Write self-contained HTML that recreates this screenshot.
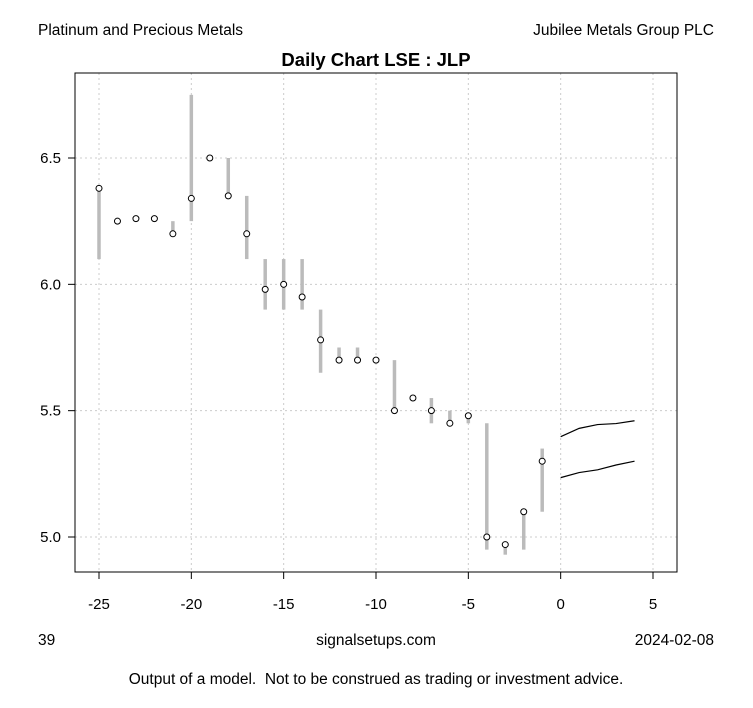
<!DOCTYPE html>
<html><head><meta charset="utf-8"><style>
body{margin:0;background:#fff;}
svg{display:block;font-family:"Liberation Sans",Arial,sans-serif;}
text{white-space:pre;}
</style></head><body>
<svg id="chart" width="753" height="708">
<text x="38" y="35" font-size="15.5">Platinum and Precious Metals</text>
<text x="714" y="35" font-size="15.5" text-anchor="end">Jubilee Metals Group PLC</text>
<text x="376" y="66" font-size="18.5" font-weight="bold" text-anchor="middle">Daily Chart LSE : JLP</text>
<g id="grid"></g>
<g id="bars"></g>
<g id="fc"></g>
<g id="pts"></g>
<rect x="75" y="73" width="602" height="499" fill="none" stroke="#000"/>
<g id="axes"></g>
<text x="38" y="645" font-size="15.5">39</text>
<text x="376" y="645" font-size="15.5" text-anchor="middle">signalsetups.com</text>
<text x="714" y="645" font-size="15.5" text-anchor="end">2024-02-08</text>
<text x="376" y="684" font-size="15.5" text-anchor="middle">Output of a model.  Not to be construed as trading or investment advice.</text>
</svg>
<script>
const days=[-25,-24,-23,-22,-21,-20,-19,-18,-17,-16,-15,-14,-13,-12,-11,-10,-9,-8,-7,-6,-5,-4,-3,-2,-1];
const closes=[6.38,6.25,6.26,6.26,6.2,6.34,6.5,6.35,6.2,5.98,6.0,5.95,5.78,5.7,5.7,5.7,5.5,5.55,5.5,5.45,5.48,5.0,4.97,5.1,5.3];
const highs=[6.38,6.25,6.26,6.26,6.25,6.75,6.5,6.5,6.35,6.1,6.1,6.1,5.9,5.75,5.75,5.7,5.7,5.55,5.55,5.5,5.48,5.45,4.97,5.1,5.35];
const lows=[6.1,6.25,6.26,6.26,6.2,6.25,6.5,6.35,6.1,5.9,5.9,5.9,5.65,5.7,5.7,5.7,5.5,5.55,5.45,5.45,5.45,4.95,4.93,4.95,5.1];
const fcDays=[0,1,2,3,4];
const fcUpper=[5.397,5.43,5.445,5.449,5.46];
const fcLower=[5.235,5.255,5.266,5.285,5.30];
const xTicks=[-25,-20,-15,-10,-5,0,5];
const yTicks=[5.0,5.5,6.0,6.5];
const NS="http://www.w3.org/2000/svg";
const X=v=>99+(v+25)*(554/30);
const Y=v=>537-(v-5)*(379/1.5);
function mk(p,t,a){const e=document.createElementNS(NS,t);for(const k in a)e.setAttribute(k,a[k]);document.getElementById(p).appendChild(e);return e;}
xTicks.forEach(t=>{
 const g=mk('grid','line',{x1:X(t),x2:X(t),y1:73,y2:572,stroke:'#ccc','stroke-dasharray':'2,3'});
 
 
 const tk=mk('axes','line',{x1:X(t),x2:X(t),y1:572,y2:579,stroke:'#000'});
 
 
 const l=mk('axes','text',{x:X(t),y:609,'font-size':15,'text-anchor':'middle'});l.textContent=t;
 
 
});
yTicks.forEach(t=>{
 const g=mk('grid','line',{x1:75,x2:677,y1:Y(t),y2:Y(t),stroke:'#ccc','stroke-dasharray':'2,3'});
 
 
 const tk=mk('axes','line',{x1:68,x2:75,y1:Y(t),y2:Y(t),stroke:'#000'});
 
 
 const l=mk('axes','text',{x:61,y:Y(t)+5,'font-size':15,'text-anchor':'end'});l.textContent=t.toFixed(1);
 
 
});
days.forEach((d,i)=>{
 if(highs[i]>lows[i]){const b=mk('bars','line',{x1:X(d),x2:X(d),y1:Y(highs[i]),y2:Y(lows[i]),stroke:'#bbb','stroke-width':3.5});
 
 }
 const c=mk('pts','circle',{cx:X(d),cy:Y(closes[i]),r:3,fill:'#fff',stroke:'#000','stroke-width':1});
 
 
});
[fcUpper,fcLower].forEach((s,j)=>{
 const p=mk('fc','polyline',{points:fcDays.map((d,i)=>X(d)+','+Y(s[i])).join(' '),fill:'none',stroke:'#000','stroke-width':1.2});
 
 
});
</script>
</body></html>
